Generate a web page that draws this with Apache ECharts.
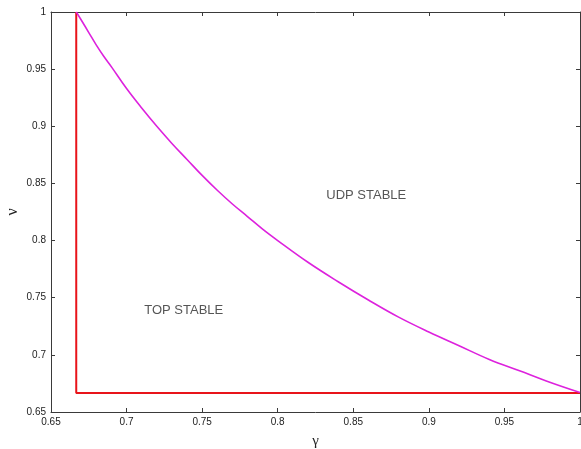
<!DOCTYPE html>
<html>
<head>
<meta charset="utf-8">
<script src="https://cdn.jsdelivr.net/npm/echarts@6/dist/echarts.min.js"></script>
<style>html,body{margin:0;padding:0;background:#fff}#c{width:581px;height:449px}</style>
</head>
<body>
<div id="c"></div>
<script>
// Stability boundary (magenta curve)
const gammaCurve = [0.6667, 0.670, 0.675, 0.68, 0.685, 0.69, 0.70, 0.71, 0.72, 0.73, 0.74, 0.75, 0.76, 0.77, 0.78, 0.79, 0.80, 0.82, 0.84, 0.86, 0.88, 0.90, 0.92, 0.94, 0.96, 0.98, 1.00];
const nuCurve    = [1.000, 0.993, 0.982, 0.971, 0.961, 0.952, 0.933, 0.916, 0.900, 0.885, 0.871, 0.857, 0.844, 0.832, 0.821, 0.810, 0.800, 0.781, 0.764, 0.748, 0.733, 0.720, 0.708, 0.696, 0.686, 0.676, 0.667];
// Red region boundary
const gammaRed = [0.6667, 0.6667, 1.00];
const nuRed    = [1.000, 0.6667, 0.6667];
// Region annotations
const regionNames = ['UDP STABLE', 'TOP STABLE'];
const regionGamma = [0.8586, 0.7378];
const regionNu    = [0.8391, 0.7393];
// Ticks
const tickMin = 0.65, tickMax = 1.0, tickStep = 0.05;

const zip = (a, b) => a.map((v, i) => [v, b[i]]);
const fmt = v => String(+v.toFixed(2));
const lineCol = '#3a3a3a';
const labelStyle = { color: '#222', fontSize: 10, fontFamily: 'Liberation Sans, Arial, sans-serif' };

const chart = echarts.init(document.getElementById('c'), null, { renderer: 'canvas' });
chart.setOption({
  backgroundColor: '#fff',
  animation: false,
  grid: { left: 51, top: 12, right: 1, bottom: 37, containLabel: false, outerBoundsMode: 'none' },
  xAxis: [{
    type: 'value', min: tickMin, max: tickMax, interval: tickStep, position: 'bottom',
    name: 'γ', nameLocation: 'middle', nameGap: 22, nameMoveOverlap: false,
    nameTextStyle: { fontSize: 15, fontFamily: 'Liberation Serif, DejaVu Serif, serif', color: '#222' },
    axisLine: { show: true, lineStyle: { color: lineCol, width: 1 } },
    axisTick: { show: true, inside: true, length: 4, lineStyle: { color: lineCol } },
    axisLabel: Object.assign({ formatter: fmt, margin: 5, showMaxLabel: true, showMinLabel: true }, labelStyle),
    splitLine: { show: false }
  }, {
    type: 'value', min: tickMin, max: tickMax, interval: tickStep, position: 'top',
    axisLine: { show: true, onZero: false, lineStyle: { color: lineCol, width: 1 } },
    axisTick: { show: true, inside: true, length: 4, lineStyle: { color: lineCol } },
    axisLabel: { show: false }, splitLine: { show: false }
  }],
  yAxis: [{
    type: 'value', min: tickMin, max: tickMax, interval: tickStep, position: 'left',
    name: 'ν', nameLocation: 'middle', nameGap: 30, nameRotate: 90, nameMoveOverlap: false,
    nameTextStyle: { fontSize: 16, fontFamily: 'Liberation Serif, DejaVu Serif, serif', color: '#222' },
    axisLine: { show: true, onZero: false, lineStyle: { color: lineCol, width: 1 } },
    axisTick: { show: true, inside: true, length: 4, lineStyle: { color: lineCol } },
    axisLabel: Object.assign({ formatter: fmt, margin: 5 }, labelStyle),
    splitLine: { show: false }
  }, {
    type: 'value', min: tickMin, max: tickMax, interval: tickStep, position: 'right',
    axisLine: { show: true, onZero: false, lineStyle: { color: lineCol, width: 1 } },
    axisTick: { show: true, inside: true, length: 4, lineStyle: { color: lineCol } },
    axisLabel: { show: false }, splitLine: { show: false }
  }],
  series: [{
    type: 'line', data: zip(gammaRed, nuRed), showSymbol: false, symbol: 'none',
    lineStyle: { color: '#e8141a', width: 2 }, z: 3
  }, {
    type: 'line', data: zip(gammaCurve, nuCurve), showSymbol: false, symbol: 'none', smooth: 0.4,
    lineStyle: { color: '#dd22dd', width: 1.6 }, z: 4
  }, {
    type: 'scatter', symbolSize: 0,
    data: regionNames.map((n, i) => ({ name: n, value: [regionGamma[i], regionNu[i]] })),
    label: { show: true, position: 'inside', formatter: p => p.name, color: '#2a2a2a', fontSize: 13,
             fontFamily: 'Liberation Sans, Arial, sans-serif' },
    silent: true, z: 5
  }]
});
</script>
</body>
</html>
